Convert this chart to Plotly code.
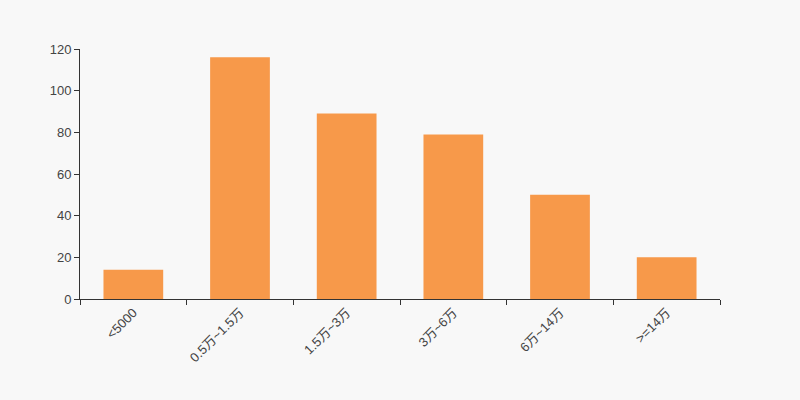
import plotly.graph_objects as go

categories = ["<5000", "0.5万~1.5万", "1.5万~3万", "3万~6万", "6万~14万", ">=14万"]
values = [14, 116, 89, 79, 50, 20]
y_ticks = [0, 20, 40, 60, 80, 100, 120]

bar_color = "#f7994a"
axis_color = "#333333"
font_family = "Liberation Sans, Arial, Noto Sans CJK SC, sans-serif"

fig = go.Figure(
    go.Bar(
        x=categories,
        y=values,
        marker=dict(color=bar_color, line=dict(width=0)),
        hoverinfo="x+y",
    )
)

fig.update_layout(
    width=800,
    height=400,
    margin=dict(l=80, r=80, t=49, b=101),
    paper_bgcolor="#f8f8f8",
    plot_bgcolor="#f8f8f8",
    bargap=0.44,
    showlegend=False,
    font=dict(family=font_family, size=12, color=axis_color),
)

fig.update_xaxes(
    showgrid=False,
    showline=True,
    linecolor=axis_color,
    linewidth=1,
    ticks="outside",
    tickson="boundaries",
    ticklen=5,
    tickcolor=axis_color,
    tickangle=-45,
    tickfont=dict(size=13, color="#444444"),
    zeroline=False,
)

fig.update_yaxes(
    range=[0, 120],
    tickvals=y_ticks,
    showgrid=False,
    showline=True,
    linecolor=axis_color,
    linewidth=1,
    ticks="outside",
    ticklen=5,
    tickcolor=axis_color,
    tickfont=dict(size=13, color="#444444"),
    zeroline=False,
)

fig.write_html(
    "out.html",
    config={"displayModeBar": False},
    post_script="document.body.style.margin='0';document.body.style.background='#f8f8f8';",
)
